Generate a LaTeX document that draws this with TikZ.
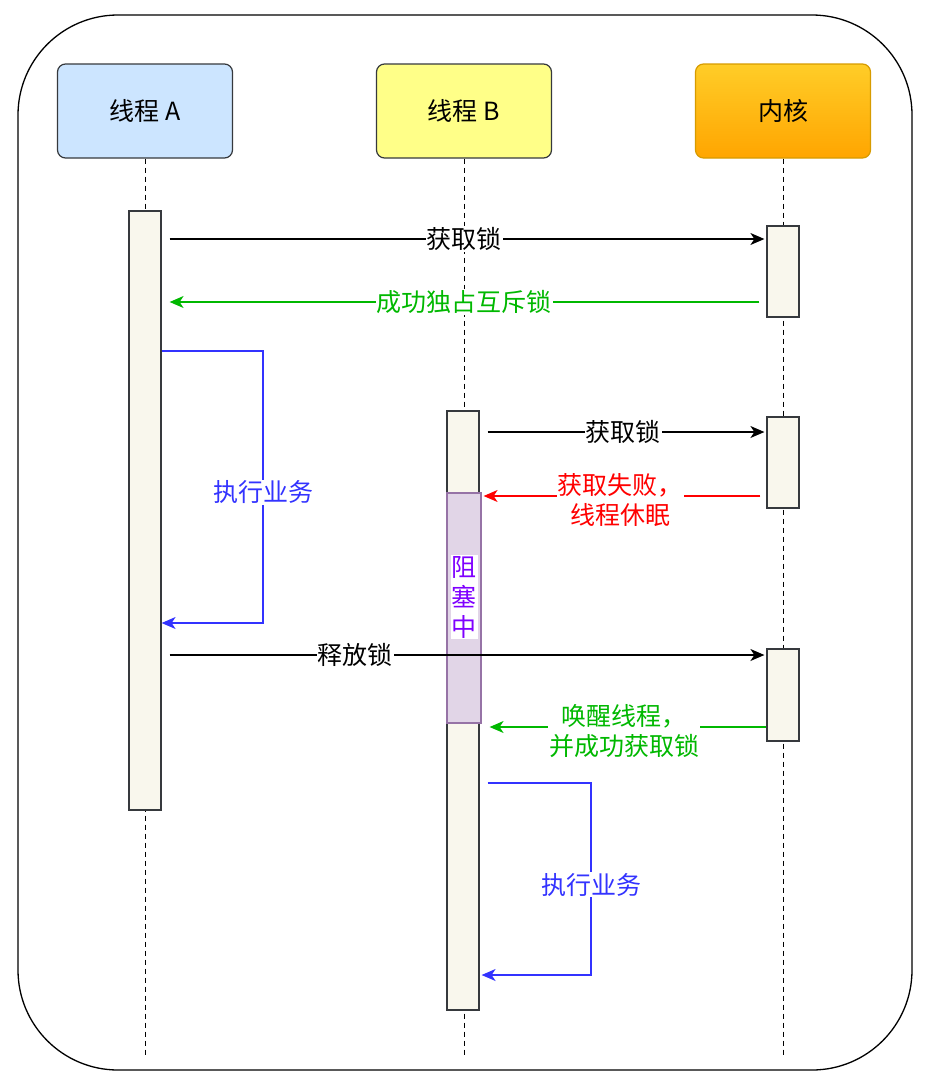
\documentclass[tikz,border=0pt]{standalone}
\usepackage{fontspec}
\setmainfont{Noto Sans CJK SC}
\usetikzlibrary{arrows.meta}
\definecolor{bluefill}{HTML}{CCE5FF}
\definecolor{yellowfill}{HTML}{FFFF88}
\definecolor{coretop}{HTML}{FFCD28}
\definecolor{corebot}{HTML}{FFA500}
\definecolor{coreline}{HTML}{D79B00}
\definecolor{barfill}{HTML}{F9F7ED}
\definecolor{boxline}{HTML}{36393D}
\definecolor{blockfill}{HTML}{E1D5E7}
\definecolor{blockline}{HTML}{9673A6}
\definecolor{blocktext}{HTML}{7F00FF}
\definecolor{okgreen}{HTML}{00B800}
\definecolor{jobblue}{HTML}{3333FF}
\definecolor{failred}{HTML}{FF0000}

\tikzset{
  head/.style={draw=boxline, rounded corners=8pt, line width=1.2pt, minimum width=175pt, minimum height=94pt, font=\fontsize{25}{30}\selectfont},
  life/.style={dash pattern=on 5pt off 4pt, line width=1pt},
  bar/.style={draw=boxline, fill=barfill, line width=1.2pt, minimum width=32pt, inner sep=0pt},
  msg/.style={line width=1.3pt, -{Stealth[length=14pt,width=12pt,inset=4pt]}},
  lbl/.style={fill=white, inner sep=1pt, font=\fontsize{25}{30}\selectfont, align=center},
}

\begin{document}
\begin{tikzpicture}[x=1pt, y=-1pt]
\useasboundingbox (0,0) rectangle (929,1084);
% outer frame
\draw[line width=1.3pt, rounded corners=100pt] (18,15) rectangle (912,1070);

% heads
\node[head, fill=bluefill] (thA) at (145,111) {线程 A};
\node[head, fill=yellowfill] (thB) at (464,111) {线程 B};
\node[head, draw=coreline, top color=coretop, bottom color=corebot] (core) at (783,111) {内核};

% life lines
\coordinate (endA) at (145,1055);
\coordinate (endB) at (464,1055);
\coordinate (endK) at (783,1055);
\draw[life] (thA) -- (endA);
\draw[life] (thB) -- (endB);
\draw[life] (core) -- (endK);

% bars
\node[bar, minimum height=599pt] (barA) at (145,510.5) {};
\node[bar, minimum height=599pt] (barB) at (463,710.5) {};
\node[bar, minimum height=91pt] (k1) at (783,271.5) {};
\node[bar, minimum height=91pt] (k2) at (783,462.5) {};
\node[bar, minimum height=92pt] (k3) at (783,695) {};
\node[draw=blockline, fill=blockfill, line width=1.2pt, minimum width=34pt, minimum height=230pt, inner sep=0pt] (block) at (464,608) {};
\node[lbl, text=blocktext] (blocklbl) at (464,597) {阻\\塞\\中};

% thread A gets the lock
\draw[msg, shorten <=8pt, shorten >=2pt] (barA.east |- 0,239) -- (k1.west |- 0,239) node[lbl, midway] {获取锁};
\draw[msg, okgreen, shorten <=7pt, shorten >=8pt] (k1.west |- 0,302) -- (barA.east |- 0,302) node[lbl, midway] {成功独占互斥锁};
\draw[msg, jobblue] (barA.east |- 0,351) -- (263,351) -- node[lbl, pos=0.52] {执行业务} (263,623) -- (barA.east |- 0,623);

% thread B tries
\draw[msg, shorten <=8pt, shorten >=2pt] (barB.east |- 0,432) -- (k2.west |- 0,432) node[lbl, midway] {获取锁};
\draw[msg, failred, shorten <=6pt, shorten >=2pt] (k2.west |- 0,496) -- (block.east |- 0,496) node[lbl, midway, xshift=-4pt, yshift=-4pt] {获取失败，\\线程休眠};

% release
\draw[msg, shorten <=8pt, shorten >=2pt] (barA.east |- 0,655) -- (k3.west |- 0,655) node[lbl, pos=0.32] {释放锁};
\draw[msg, okgreen, shorten >=8pt] (k3.west |- 0,727) -- (block.east |- 0,727) node[lbl, midway, yshift=-4pt] {唤醒线程，\\并成功获取锁};
\draw[msg, jobblue, shorten <=8pt, shorten >=2pt] (barB.east |- 0,783) -- (591,783) -- node[lbl, pos=0.53] {执行业务} (591,975) -- (barB.east |- 0,975);
\end{tikzpicture}
\end{document}
